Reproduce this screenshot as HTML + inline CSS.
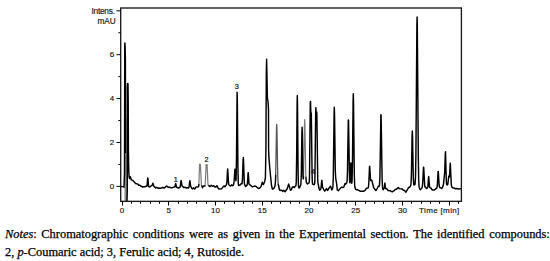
<!DOCTYPE html>
<html><head><meta charset="utf-8"><style>
html,body{margin:0;padding:0;background:#fff;}
body{width:550px;height:261px;position:relative;overflow:hidden;}
svg{position:absolute;left:0;top:0;}
.cap{position:absolute;left:5px;font-family:"Liberation Serif",serif;font-size:12.4px;color:#000;white-space:nowrap;-webkit-text-stroke:0.25px #000;}
#l1{top:226.8px;width:544.8px;text-align:justify;text-align-last:justify;}
#l2{top:245.3px;}
</style></head><body>
<svg width="550" height="261" viewBox="0 0 550 261">
<rect x="125.9" y="118" width="1.1" height="35" fill="#c8c8c8"/><rect x="124.4" y="153" width="2.7" height="48" fill="#959595"/>
<polyline fill="none" stroke="#909090" stroke-width="1.2" stroke-linejoin="round" points="125.55,153 125.6,201 127,201"/>
<polyline fill="none" stroke="#7a7a7a" stroke-width="1.2" stroke-linejoin="round" points="198.9,183.88 199.5,165.96 199.7,163.98 199.9,164.97 200.1,165.13 200.3,164.37 200.5,166.25 201.3,183.32 201.5,185.21"/>
<polyline fill="none" stroke="#7a7a7a" stroke-width="1.2" stroke-linejoin="round" points="205.1,185.3 205.5,179.17 206.1,164.4 206.3,164.97 206.5,166.8 206.7,166.85 206.9,165.1 207.1,164.6 207.9,183.35 208.1,185.15 208.3,185.78"/>
<polyline fill="none" stroke="#555" stroke-width="1.3" stroke-linejoin="round" points="275.7,174.57 276.5,128.48 276.7,124.5 276.9,128.43 277.7,174.3 278.1,183.52"/>
<polyline fill="none" stroke="#7a7a7a" stroke-width="1.2" stroke-linejoin="round" points="303.5,176 304.5,123.56 304.7,119.6 304.9,123.68 305.7,170.65 305.9,176.93"/>
<polyline fill="none" stroke="#000" stroke-width="1.45" stroke-linejoin="round" points="120.5,186.4 122,186.6 123.4,186.5 124,187.2 124.5,173 124.75,46 124.9,42.9 125.1,46 125.4,60 125.55,153"/>
<polyline fill="none" stroke="#000" stroke-width="1.45" stroke-linejoin="round" points="127,201 127.3,190 127.3,86 127.6,83.4 128,83.8 128.2,100 128.4,150 128.8,172 129.1,176.6 129.5,178.44 129.7,178.6 130.3,176.8 131.3,179.83 132.7,180.32 135.9,183.73 136.9,183.7 137.7,184.05 138.7,185.27 139.5,185.16 140.5,185.67 141.3,186.56 142.1,186.42 142.9,187.16 144.1,186.59 144.9,186.96 145.9,186.2 146.7,186.34 146.9,186.16 147.1,185.35 147.7,178.03 147.9,178.08 148.5,185.5 148.7,186.46 149.3,187.07 149.5,187.13 151.3,185.73 151.7,185.81 152.1,185.4 152.7,183.44 152.9,183.24 153.9,186.34 154.9,187.11 155.7,187.93 156.7,187.3 158.3,188.46 159.3,187.95 160.3,188.29 162.1,187.77 162.5,187.4 162.9,187.35 163.9,188.1 164.7,187.75 166.5,186.04 167.5,186.51 168.3,187.42 169.3,187.18 171.9,187.91 174.3,186.91 174.7,186.93 174.9,186.73 175.7,183.55 176.5,187.01 178.3,188.07 179.9,187.24 180.1,186.96 180.5,184.89 180.9,181.17 181.1,180.4 181.3,181.09 181.9,185.37 182.3,186.33 182.7,186.62 183.1,186.74 183.7,187.62 183.9,187.71 184.9,187.16 186.5,188.2 187.3,187.67 188.1,188.03 188.7,187.78 189.1,186.8 189.7,181.61 189.9,180.8 190.7,186.43 191.7,188.25 192.5,188.91 192.7,188.85 193.5,187.76 194.5,188.89 194.9,188.98 196.1,186.95 198.3,186.78 198.5,186.67 198.7,186.05 198.9,183.88"/>
<polyline fill="none" stroke="#000" stroke-width="1.45" stroke-linejoin="round" points="201.5,185.21 202.5,187.72 203.3,186.07 204.7,186.15 204.9,186 205.1,185.3"/>
<polyline fill="none" stroke="#000" stroke-width="1.45" stroke-linejoin="round" points="208.3,185.78 208.5,185.81 208.9,185.43 209.7,186.44 210.1,186.56 211.3,185.36 212.5,186.23 213.3,185.97 213.5,185.76 213.7,185.75 214.7,186.85 214.9,186.91 215.1,186.78 215.9,187.08 216.9,185.7 217.1,185.66 218.3,188.52 219.3,189.06 221.7,188.66 223.9,185.91 224.1,185.9 224.7,186.76 224.9,186.76 226.5,184.61 226.9,182.31 227.5,170.79 227.7,169 228.5,182.7 228.7,184.19 228.9,184.65 230.3,186.09 231.3,185.49 231.7,184.77 232.7,185.67 233.3,185.13 233.7,184.18 234.1,181.67 234.9,169.32 235.1,169.32 235.9,180.72 236.1,179.46 236.5,156.58 237.1,92.15 237.3,97.33 237.9,166.4 238.3,183.4 238.5,185.18 238.7,185.55 238.9,185.56 239.5,185.02 240.1,185.1 241.1,183.63 241.3,183.55 241.7,183.85 241.9,183.85 242.1,183.41 242.5,178.59 243.1,159.98 243.3,157.5 243.5,160.05 244.3,182.28 244.5,183.89 245.5,186.49 245.7,186.52 247.1,185.12 247.5,182.79 248.1,172.83 248.3,172.83 248.9,182.73 249.1,184.16 252.5,186.94 254.3,186.04 255.7,186.26 255.9,186.2 258.3,188.49 259.1,188.25 259.5,188.35 261.1,186.39 262.3,182.27 263.3,184.55 263.7,184.03 264.5,181.99 265.4,177.98 265.9,150 266.3,75 266.6,59.2 267.4,98 268.1,102 268.5,110 268.6,150 268.9,156.9 269.7,167.2 271.4,184.53 272.3,188.97 272.7,189.16 273.7,188.49 273.9,188.52 275.1,185.61 275.5,180.71 275.7,174.57"/>
<polyline fill="none" stroke="#000" stroke-width="1.45" stroke-linejoin="round" points="278.1,183.52 278.3,184.91 278.5,185.43 278.7,185.58 279.3,189.54 279.9,190.3 280.3,190.48 280.9,190.16 281.9,190.52 282.7,191.37 283.5,190.38 283.7,190.3 285.1,191.79 287.1,188.93 288.7,184.08 290.3,189.9 290.5,190.24 290.7,190.26 291.3,189.65 292.3,187.13 293.3,186.71 294.1,187.52 294.3,187.48 295.3,186.18 295.7,185.98 295.9,185.61 296.1,184.25 296.3,180.31 296.7,153.16 297.1,105 297.3,95.4 297.5,105.32 298.1,172.26 298.3,181.91 298.5,185.97 298.7,187.46 298.9,187.87 299.5,187.89 300.7,185.08 300.9,183.98 301.3,175.11 301.9,133.53 302.1,127.3 302.3,133.09 302.9,173.1 303.1,178.18 303.3,178.84 303.5,176"/>
<polyline fill="none" stroke="#000" stroke-width="1.45" stroke-linejoin="round" points="305.9,176.93 306.3,182.17 306.5,182.84 307.5,183.94 307.7,183.91 308.5,182.87 308.9,182.91 309.1,182.69 309.3,181.43 309.5,176.87 310.3,102.22 310.5,101.37 310.9,115.14 311.1,113.06 311.3,113 312.1,175.05 312.3,181.31 312.5,183.57 312.7,184.18 314.1,184.7 314.5,184.11 314.7,183.07 314.9,179.82 315.7,111.59 315.9,107.61 316.3,121.26 316.7,112.01 316.9,115.33 317.7,178.51 317.9,182.74 318.1,184.05 318.3,184.35 318.9,188.1 319.7,190.16 319.9,190.24 320.9,188.52 321.3,185.57 321.7,180.39 321.9,180.3 322.5,187.17 324.5,190.99 324.7,191.08 326.5,188.64 327.5,190.48 330.3,186.19 330.5,186.33 331.1,187.59 331.7,189.85 331.9,189.96 332.7,188.16 332.9,186.84 333.3,177.05 334.1,113.6 334.3,107.2 334.5,112.87 335.3,170.79 335.7,178 336.7,184.34 337.3,189.88 337.5,189.87 338.1,190.63 338.3,190.68 340.9,187.62 341.1,187.68 341.9,187.16 342.9,187.51 343.7,187.2 345.1,183.37 345.3,183.38 345.7,184.17 346.7,182.87 347.1,180.84 347.5,170.42 348.3,120.04 348.5,120.12 349.5,178.28 349.7,181.85 349.9,182.82 350.1,181.14 350.7,162.86 350.9,162.94 351.5,181.51 351.7,183.25 351.9,182.82 352.1,180.05 352.5,159.9 353.1,100.74 353.3,93.8 353.5,101.09 354.3,174.71 354.7,185.58 355.1,188.04 355.5,189.07 356.5,189.87 357.3,189.52 360.1,191.22 363.5,191.29 365.3,190.11 366.3,188.29 368.1,188.07 368.5,186.84 368.9,181.52 369.5,166.88 369.7,166.26 370.5,179.7 370.7,180.59 370.9,180.61 371.3,180.07 371.5,180 371.9,180.56 373.7,187.7 375.9,190.55 376.1,190.5 378.5,186.12 378.7,186.04 379.1,186.28 379.3,186.05 379.5,185.05 379.9,177.05 380.9,114.83 381.1,115 382.1,178.92 382.5,187.49 382.9,189.34 383.3,189.76 384.3,187.47 384.9,183 385.5,188.23 385.7,188.83 386.9,188.84 388.1,190.53 390.5,190.66 391.5,191.66 392.3,191.87 393.3,191.02 394.1,190.84 395.1,189.52 396.1,189.38 398.3,187.63 399.3,188.61 402.3,188.94 403.3,190.22 404.1,190.23 404.9,190.83 405.7,192.13 405.9,192.26 408.7,187.42 409.1,187.28 409.5,187.43 410.7,185.77 411.1,183 411.5,170.85 412.1,135.3 412.3,131 412.5,135.1 413.3,177.72 413.7,183.91 413.9,184.73 414.1,184.94 414.5,184.69 414.7,184.7 414.9,184.47 415.1,183.71 415.5,177.21 415.9,154.89 416.9,24.67 417.1,17 417.3,25.04 418.3,157.11 418.7,180.18 419.1,187.12 419.9,189.43 420.3,189.68 421.9,187.99 422.3,186.86 422.7,183.35 423.5,167.32 423.7,167.29 424.7,185.57 424.9,186.69 425.1,186.97 425.5,186.74 426.5,188.58 426.7,188.62 427.5,187.74 427.9,186.46 428.5,177.91 428.7,176.5 429.5,186.48 429.7,187.33 430.9,188.04 432.1,189.73 432.9,190.07 434.3,190.08 436.9,187.86 437.3,185.77 438.1,171.65 438.3,171.56 439.1,185.01 439.5,186.98 440.1,187.74 441.1,187.88 441.7,188.51 441.9,188.49 443.1,185.84 443.5,184.08 444.7,172.24 445.3,154.31 445.5,151.8 446.3,179.94 446.5,183.33 446.7,184.66 446.9,185.03 447.5,184.85 447.9,183.93 448.7,176.77 448.9,176 449.3,177.01 449.5,176.58 450.1,164.92 450.3,163.2 451.3,184.7 451.7,186.87 452.7,187.77 454.5,188.24 455.5,188.78 456.3,188.52 459.1,189.06 461,188.63"/>
<rect x="120.7" y="8" width="340.7" height="193.35" fill="none" stroke="#1a1a1a" stroke-width="1.35"/>
<path d="M116.5 186.4H120.5M118.3 164.45H120.5M116.5 142.5H120.5M118.3 120.55H120.5M116.5 98.6H120.5M118.3 76.65H120.5M116.5 54.7H120.5M118.3 32.75H120.5M116.5 10.8H120.5M122.5 201.35V205.5M131.5 201.35V203.8M140.5 201.35V203.8M150.5 201.35V203.8M159.5 201.35V203.8M168.5 201.35V205.5M178.5 201.35V203.8M187.5 201.35V203.8M196.5 201.35V203.8M206.5 201.35V203.8M215.5 201.35V205.5M224.5 201.35V203.8M234.5 201.35V203.8M243.5 201.35V203.8M252.5 201.35V203.8M262.5 201.35V205.5M271.5 201.35V203.8M280.5 201.35V203.8M290.5 201.35V203.8M299.5 201.35V203.8M309.5 201.35V205.5M318.5 201.35V203.8M327.5 201.35V203.8M337.5 201.35V203.8M346.5 201.35V203.8M355.5 201.35V205.5M365.5 201.35V203.8M374.5 201.35V203.8M383.5 201.35V203.8M393.5 201.35V203.8M402.5 201.35V205.5M411.5 201.35V203.8M421.5 201.35V203.8M430.5 201.35V203.8M439.5 201.35V203.8M449.5 201.35V205.5M458.5 201.35V203.8" stroke="#000" stroke-width="1" fill="none"/>
<g font-family="Liberation Sans, sans-serif" font-size="8" fill="#111" stroke="#111" stroke-width="0.15"><text x="114.3" y="188.8" text-anchor="end">0</text><text x="114.3" y="144.9" text-anchor="end">2</text><text x="114.3" y="101" text-anchor="end">4</text><text x="114.3" y="57.1" text-anchor="end">6</text><text x="122" y="212.8" text-anchor="middle">0</text><text x="168.75" y="212.8" text-anchor="middle">5</text><text x="215.5" y="212.8" text-anchor="middle">10</text><text x="262.25" y="212.8" text-anchor="middle">15</text><text x="309" y="212.8" text-anchor="middle">20</text><text x="355.75" y="212.8" text-anchor="middle">25</text><text x="402.5" y="212.8" text-anchor="middle">30</text><text x="419.1" y="212.6" letter-spacing="0.35">Time [min]</text><text x="114.7" y="14.1" text-anchor="end" letter-spacing="-0.28" font-size="8.4">Intens.</text><text x="115.6" y="24.1" text-anchor="end" font-size="8.2">mAU</text></g>
<g font-family="Liberation Sans, sans-serif" font-size="7.3" fill="#111" stroke="#111" stroke-width="0.2"><text x="175.7" y="181.8" text-anchor="middle">1</text><text x="206.6" y="162.2" text-anchor="middle">2</text><text x="236.9" y="88.9" text-anchor="middle">3</text><text x="313.3" y="174" text-anchor="middle" fill="#000">4</text></g>
</svg>
<div class="cap" id="l1"><i>Notes</i>: Chromatographic conditions were as given in the Experimental section. The identified compounds:</div>
<div class="cap" id="l2">2, <i>p</i>-Coumaric acid; 3, Ferulic acid; 4, Rutoside.</div>
</body></html>
